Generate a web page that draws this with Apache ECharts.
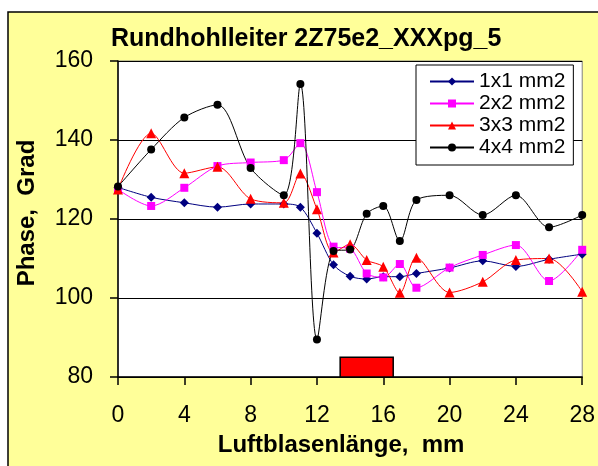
<!DOCTYPE html>
<html>
<head>
<meta charset="utf-8">
<script src="https://cdn.jsdelivr.net/npm/echarts@6/dist/echarts.min.js"></script>
<style>
  html, body { margin: 0; padding: 0; background: #fff; }
  #chart { width: 598px; height: 466px; }
</style>
</head>
<body>
<div id="chart"></div>
<script>
// Luftblasenlänge (mm)
var xPos = [0, 2, 4, 6, 8, 10, 11, 12, 13, 14, 15, 16, 17, 18, 20, 22, 24, 26, 28];
var names = ['1x1 mm2', '2x2 mm2', '3x3 mm2', '4x4 mm2'];
var phase1 = [128, 125.5, 124.1, 123, 123.8, 123.8, 123, 116.4, 108.4, 105.5, 104.8, 105.4, 105.4, 106.2, 107.6, 109.4, 108, 109.8, 111.1];
var phase2 = [127.5, 123.3, 127.9, 133.4, 134.3, 134.9, 139.2, 126.8, 113, 112.5, 106.2, 105.2, 108.6, 102.6, 107.7, 110.9, 113.4, 104.3, 112.2];
var phase3 = [127.5, 141.7, 131.6, 133.2, 125.1, 124.1, 131.5, 122.5, 111.5, 113.6, 109.6, 107.9, 101.3, 110.2, 101.4, 104.1, 109.6, 110, 101.6];
var phase4 = [128.2, 137.6, 145.7, 148.9, 132.9, 126, 154.2, 89.5, 111.9, 112.3, 121.3, 123.3, 114.4, 124.8, 126, 121, 126, 117.9, 121];
// red bar: position range of the air bubble
var bubbleX = [13.4, 16.6];
var bubbleY = [80, 85];

var xTicks = [0, 28, 4];
var yTicks = [80, 160, 20];

function pairs(vals) {
  var out = [];
  for (var i = 0; i < xPos.length; i++) {
    out.push([xPos[i], vals[i]]);
  }
  return out;
}

var font = 'Liberation Sans';
var myChart = echarts.init(document.getElementById('chart'));

function lineSeries(name, vals, color, symbol, size) {
  return {
    name: name,
    type: 'line',
    data: pairs(vals),
    smooth: 0.3,
    symbol: symbol,
    symbolSize: size,
    showAllSymbol: true,
    lineStyle: { color: color, width: 1 },
    itemStyle: { color: color },
    z: 3
  };
}

var option = {
  animation: false,
  backgroundColor: '#fff',
  textStyle: { fontFamily: font },
  graphic: [{
    type: 'rect',
    z: -10,
    shape: { x: 8, y: 12, width: 600, height: 470 },
    style: { fill: '#FFFF99', stroke: '#000', lineWidth: 1.5 }
  }],
  title: {
    text: 'Rundhohlleiter 2Z75e2_XXXpg_5',
    left: 106,
    top: 22,
    textStyle: { fontFamily: font, fontSize: 25, fontWeight: 'bold', color: '#000' }
  },
  legend: {
    data: names,
    orient: 'vertical',
    left: 416,
    top: 65,
    padding: [6, 8, 7, 13],
    itemWidth: 44,
    itemHeight: 10,
    itemGap: 1,
    backgroundColor: '#fff',
    borderColor: '#000',
    borderWidth: 1,
    textStyle: { fontFamily: font, fontSize: 21, color: '#000' }
  },
  grid: {
    left: 118,
    right: 10,
    top: 61,
    bottom: 89,
    show: true,
    backgroundColor: '#fff',
    borderColor: '#808080',
    borderWidth: 1
  },
  xAxis: {
    type: 'value',
    min: xTicks[0],
    max: xTicks[1],
    interval: xTicks[2],
    name: 'Luftblasenlänge,  mm',
    nameLocation: 'middle',
    nameGap: 56,
    nameTextStyle: { fontFamily: font, fontSize: 24, fontWeight: 'bold', color: '#000', padding: [0, 18, 0, 0] },
    axisLine: { lineStyle: { color: '#000', width: 1.5 } },
    axisTick: { length: 8, lineStyle: { color: '#000', width: 1.5 } },
    axisLabel: { margin: 27, fontFamily: font, fontSize: 23, color: '#000' },
    splitLine: { show: false }
  },
  yAxis: {
    type: 'value',
    min: yTicks[0],
    max: yTicks[1],
    interval: yTicks[2],
    name: 'Phase,  Grad',
    nameLocation: 'middle',
    nameGap: 79,
    nameRotate: 90,
    nameTextStyle: { fontFamily: font, fontSize: 24, fontWeight: 'bold', color: '#000', padding: [0, 0, 0, 12] },
    axisLine: { show: true, lineStyle: { color: '#000', width: 1.5 } },
    axisTick: { show: true, length: 8, lineStyle: { color: '#000', width: 1.5 } },
    axisLabel: { margin: 25, fontFamily: font, fontSize: 23, color: '#000' },
    splitLine: { show: true, lineStyle: { color: '#000', width: 1 } }
  },
  series: [
    lineSeries(names[0], phase1, '#000080', 'diamond', 9),
    lineSeries(names[1], phase2, '#FF00FF', 'rect', 8),
    lineSeries(names[2], phase3, '#FF0000', 'triangle', 10),
    lineSeries(names[3], phase4, '#000000', 'circle', 8),
    {
      name: 'bubble',
      type: 'line',
      data: [],
      markArea: {
        silent: true,
        itemStyle: { color: '#FF0000', borderColor: '#000', borderWidth: 1.5 },
        data: [[{ coord: [bubbleX[0], bubbleY[0]] }, { coord: [bubbleX[1], bubbleY[1]] }]]
      }
    }
  ]
};

myChart.setOption(option);
</script>
</body>
</html>
